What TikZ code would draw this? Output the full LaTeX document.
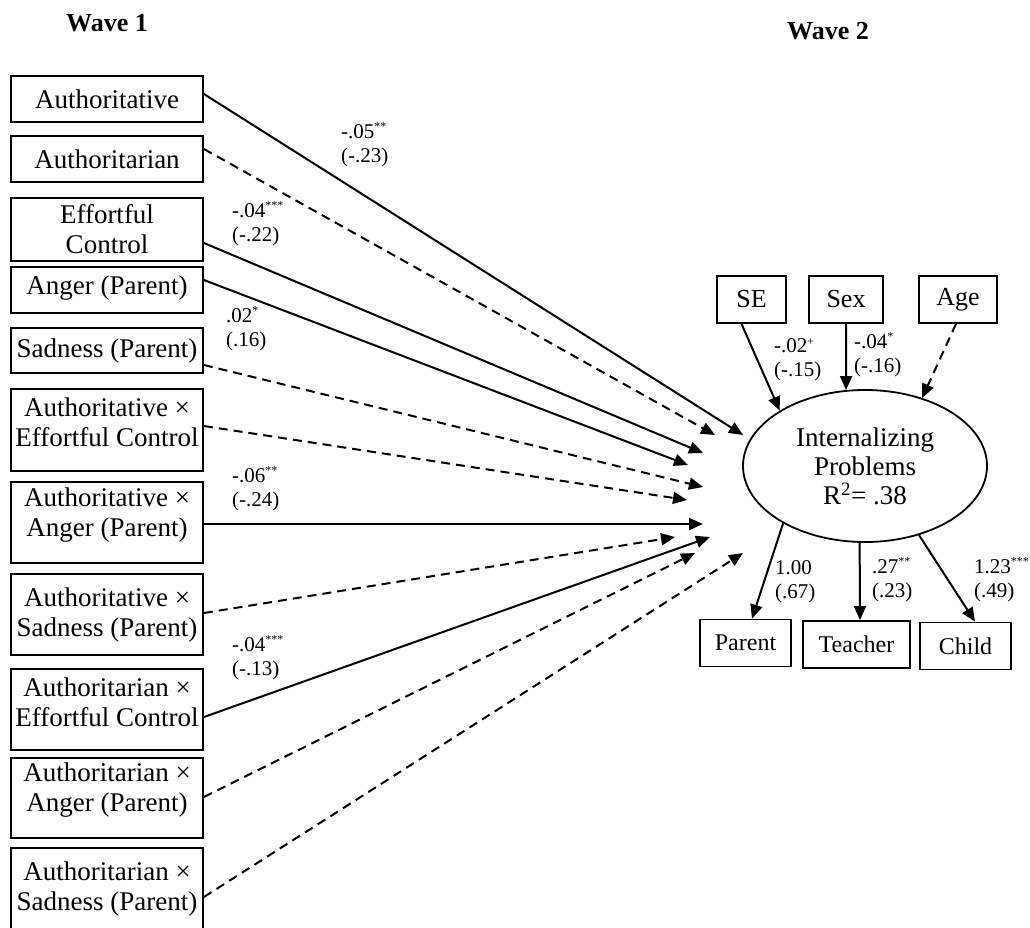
\documentclass[tikz,border=0pt]{standalone}
\usepackage{fontspec}
\setmainfont{Liberation Serif}
\usetikzlibrary{arrows.meta,shapes.geometric}
\newcommand\sig[1]{\textsuperscript{\fontsize{12}{12}\selectfont #1}}
\begin{document}
\begin{tikzpicture}[x=1pt,y=-1pt,
  box/.style={draw, line width=1.8pt, minimum width=192pt, inner sep=0pt},
  boxtxt/.style={font=\fontsize{27}{30}\selectfont, align=center, inner sep=0pt},
  lab/.style={font=\fontsize{21}{24}\selectfont, align=left, anchor=west, inner sep=0pt},
  solidpath/.style={line width=2pt, -{Triangle[length=14pt,width=12pt]}},
  nspath/.style={solidpath, dash pattern=on 9pt off 6pt},
  wave/.style={font=\fontsize{26}{30}\selectfont\bfseries},
  sbox/.style={draw, line width=1.8pt, minimum height=47pt, inner sep=0pt, font=\fontsize{26}{28}\selectfont},
  obox/.style={draw, line width=1.8pt, minimum height=47pt, inner sep=0pt, font=\fontsize{24}{26}\selectfont}]
\useasboundingbox (0,0) rectangle (1030,927);

% headings
\node[wave] (w1) at (107,23) {Wave 1};
\node[wave] (w2) at (828,31) {Wave 2};

% predictor boxes
\node[box, minimum height=46pt, label={[boxtxt]center:Authoritative}] (b1) at (107,99) {};
\node[box, minimum height=46pt, label={[boxtxt]center:Authoritarian}] (b2) at (107,159) {};
\node[box, minimum height=63pt, label={[boxtxt]center:{Effortful\\Control}}] (b3) at (107,229.5) {};
\node[box, minimum height=46pt, label={[boxtxt,yshift=2pt]center:{Anger (Parent)}}] (b4) at (107,290) {};
\node[box, minimum height=45pt, label={[boxtxt]center:{Sadness (Parent)}}] (b5) at (107,350.5) {};
\node[box, minimum height=82pt, label={[boxtxt,yshift=8pt]center:{Authoritative ×\\Effortful Control}}] (b6) at (107,430) {};
\node[box, minimum height=81pt, label={[boxtxt,yshift=7pt]center:{Authoritative ×\\Anger (Parent)}}] (b7) at (107,522.5) {};
\node[box, minimum height=81pt, label={[boxtxt]center:{Authoritative ×\\Sadness (Parent)}}] (b8) at (107,614.5) {};
\node[box, minimum height=81pt, label={[boxtxt,yshift=7pt]center:{Authoritarian ×\\Effortful Control}}] (b9) at (107,709.5) {};
\node[box, minimum height=80pt, label={[boxtxt,yshift=8pt]center:{Authoritarian ×\\Anger (Parent)}}] (b10) at (107,798) {};
\node[box, minimum height=87pt, label={[boxtxt,yshift=3pt]center:{Authoritarian ×\\Sadness (Parent)}}] (b11) at (107,891.5) {};

% latent variable
\node[draw, ellipse, line width=1.8pt, minimum width=244pt, minimum height=152pt, inner sep=0pt,
      font=\fontsize{27}{29}\selectfont, align=center] (ip) at (865,466)
      {Internalizing\\Problems\\R\textsuperscript{2}= .38};

% covariates
\node[sbox, minimum width=69pt] (se) at (751.5,299.5) {SE};
\node[sbox, minimum width=74pt] (sex) at (846,299.5) {Sex};
\node[sbox, minimum width=78pt] (age) at (958,299.5) {Age};

% indicators
\node[obox, minimum width=91pt] (par) at (745.5,643) {Parent};
\node[obox, minimum width=107pt] (tea) at (856.5,644.5) {Teacher};
\node[obox, minimum width=91pt] (chi) at (965.5,646) {Child};

% arrow tips
\coordinate (t1) at (743,435);
\coordinate (t2) at (715,435);
\coordinate (t3) at (703,453);
\coordinate (t4) at (688,465);
\coordinate (t5) at (703,487);
\coordinate (t6) at (687,500);
\coordinate (t7) at (703,524);
\coordinate (t8) at (675,537);
\coordinate (t9) at (710,537);
\coordinate (t10) at (695,553);
\coordinate (t11) at (743,553);

% paths from predictors
\draw[solidpath] ([yshift=5pt]b1.east) -- (t1);
\draw[nspath] ([yshift=10pt]b2.east) -- (t2);
\draw[solidpath] ([yshift=-13.5pt]b3.east) -- (t3);
\draw[solidpath] ([yshift=10pt]b4.east) -- (t4);
\draw[nspath] ([yshift=-14.5pt]b5.east) -- (t5);
\draw[nspath] ([yshift=4pt]b6.east) -- (t6);
\draw[solidpath] ([yshift=-1.5pt]b7.east) -- (t7);
\draw[nspath] ([yshift=1.5pt]b8.east) -- (t8);
\draw[solidpath] ([yshift=-7.5pt]b9.east) -- (t9);
\draw[nspath] ([yshift=1pt]b10.east) -- (t10);
\draw[nspath] ([yshift=-5.5pt]b11.east) -- (t11);

% covariate paths
\draw[solidpath] ([xshift=-10pt]se.south) -- (ip.147.6);
\draw[solidpath] (sex.south) -- (ip.104.4);
\draw[nspath] ([xshift=-2pt]age.south) -- (ip.50);

% loadings
\draw[solidpath] (ip.215) -- ([xshift=6.5pt]par.north);
\draw[solidpath] (ip.266) -- ([xshift=3.5pt]tea.north);
\draw[solidpath] (ip.308.7) -- ([xshift=9.5pt]chi.north);

% labels
\node[lab] (l1) at (341,145) {-.05\sig{**}\\(-.23)};
\node[lab] (l2) at (232,224) {-.04\sig{***}\\(-.22)};
\node[lab] (l3) at (226,329) {.02\sig{*}\\(.16)};
\node[lab] (l4) at (232,489) {-.06\sig{**}\\(-.24)};
\node[lab] (l5) at (232,658) {-.04\sig{***}\\(-.13)};
\node[lab] (l6) at (774,360) {-.02\sig{+}\\(-.15)};
\node[lab] (l7) at (854,355) {-.04\sig{*}\\(-.16)};
\node[lab] (l8) at (775,582) {1.00\\(.67)};
\node[lab] (l9) at (872,580) {.27\sig{**}\\(.23)};
\node[lab] (l10) at (974,580) {1.23\sig{***}\\(.49)};
\end{tikzpicture}
\end{document}
